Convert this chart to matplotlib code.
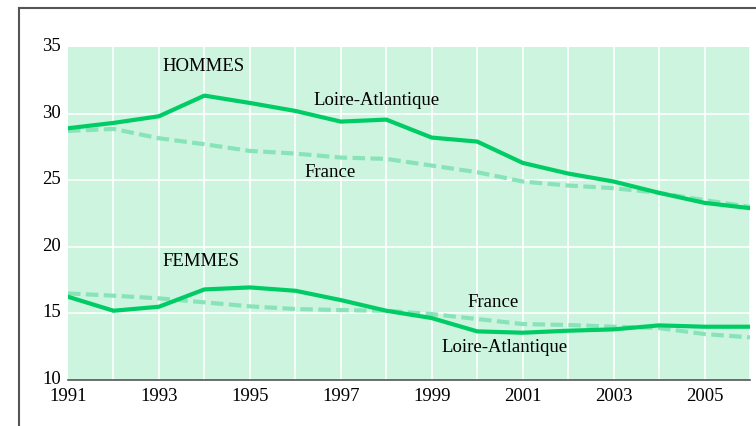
import numpy as np
import matplotlib.pyplot as plt
from matplotlib.lines import Line2D
from matplotlib.transforms import ScaledTranslation

years = np.arange(1991, 2007)

hommes_loire = [28.9, 29.3, 29.8, 31.35, 30.8, 30.2, 29.4, 29.55, 28.2, 27.9, 26.3, 25.5, 24.9, 24.05, 23.3, 22.9]
hommes_france = [28.7, 28.85, 28.15, 27.7, 27.2, 27.0, 26.7, 26.6, 26.1, 25.6, 24.9, 24.6, 24.4, 24.05, 23.5, 23.0]
femmes_loire = [16.25, 15.2, 15.5, 16.8, 16.95, 16.7, 16.0, 15.2, 14.65, 13.65, 13.55, 13.7, 13.8, 14.1, 14.0, 14.0]
femmes_france = [16.5, 16.33, 16.13, 15.83, 15.53, 15.33, 15.25, 15.2, 14.95, 14.58, 14.2, 14.13, 14.0, 13.9, 13.45, 13.2]

xtick_years = list(range(1991, 2006, 2))
ytick_vals = [10, 15, 20, 25, 30, 35]

solid_col = '#00cc66'
dash_col = '#88e4b8'
bg_col = '#ccf4df'

plt.rcParams['font.family'] = ['Liberation Serif', 'DejaVu Serif']

fig = plt.figure(figsize=(7.56, 4.26), dpi=100)
ax = fig.add_axes([68 / 756, 1 - 380 / 426, (750 - 68) / 756, (380 - 47) / 426])
ax.set_facecolor(bg_col)

# outer frame (only top and left visible)
fig.add_artist(Line2D([19 / 756, 19 / 756], [0, 1 - 8 / 426], color='#555555', lw=1.5))
fig.add_artist(Line2D([19 / 756, 1], [1 - 8 / 426, 1 - 8 / 426], color='#555555', lw=1.5))

for y in years[1:]:
    ax.axvline(y, color='white', lw=1.2, zorder=1)
for v in ytick_vals[1:-1]:
    ax.axhline(v, color='white', lw=1.2, zorder=1)

ax.plot(years, hommes_france, color=dash_col, lw=3, ls=(0, (3, 1.3)), zorder=2)
ax.plot(years, femmes_france, color=dash_col, lw=3, ls=(0, (3, 1.3)), zorder=2)
ax.plot(years, hommes_loire, color=solid_col, lw=3, zorder=3)
ax.plot(years, femmes_loire, color=solid_col, lw=3, zorder=3)

fs = 13.5
ax.text(1993.07, 33.5, 'HOMMES', fontsize=fs, va='center')
ax.text(1996.39, 31.0, 'Loire-Atlantique', fontsize=fs, va='center')
ax.text(1996.21, 25.6, 'France', fontsize=fs, va='center')
ax.text(1993.07, 18.86, 'FEMMES', fontsize=fs, va='center')
ax.text(1999.79, 15.83, 'France', fontsize=fs, va='center')
ax.text(1999.22, 12.45, 'Loire-Atlantique', fontsize=fs, va='center')

ax.set_xlim(1991, 2006)
ax.set_ylim(10, 35)
ax.set_xticks(xtick_years)
ax.set_yticks(ytick_vals)
ax.tick_params(axis='both', length=0, labelsize=fs, colors='black')
ax.tick_params(axis='x', pad=6)
ax.tick_params(axis='y', pad=5)

# nudge y labels up a little, as in the reference
shift = ScaledTranslation(0, 2.5 / 100, fig.dpi_scale_trans)
for lab in ax.get_yticklabels():
    lab.set_transform(lab.get_transform() + shift)

for s in ['top', 'right', 'left']:
    ax.spines[s].set_visible(False)
ax.spines['bottom'].set_color('#555555')
ax.spines['bottom'].set_linewidth(1.2)

fig.savefig('out.png', dpi=100)
